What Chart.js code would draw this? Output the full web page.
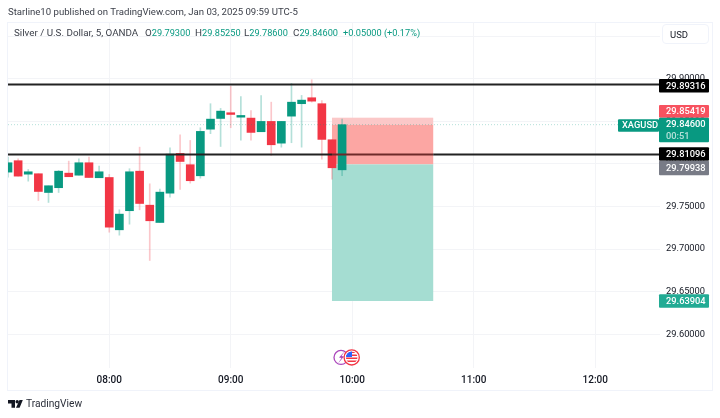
<!DOCTYPE html>
<html>
<head>
<meta charset="utf-8">
<title>XAGUSD 5m</title>
<script src="https://cdn.jsdelivr.net/npm/chart.js@4/dist/chart.umd.min.js"></script>
<style>
  html, body { margin: 0; padding: 0; background: #fff; }
  #wrap { position: relative; width: 720px; height: 418px; overflow: hidden; font-family: Roboto, sans-serif; color: #131722; }
  #wrap span, #wrap div.t { position: absolute; white-space: nowrap; line-height: 14px; }
  canvas { position: absolute; left: 0; top: 0; }
  .pub { left: 8px; top: 5px; font-size: 9.6px; color: #3a3e48; }
  .leg { top: 26px; font-size: 9.8px; color: #3a3e48; }
  .leg b { font-weight: 400; font-size: 9.2px; color: #089981; }
  #usd { position: absolute; left: 662px; top: 24px; width: 47px; height: 20px; border: 1px solid #f0f3fa; border-radius: 4px; background: #fff; font-size: 9.5px; line-height: 19px; text-indent: 7px; box-sizing: border-box; }
  .foot { left: 26px; top: 397px; font-size: 10.2px; color: #2a2e39; }
</style>
</head>
<body>
<div id="wrap">
  <canvas id="chartSilver" width="720" height="418"></canvas>
  <span class="pub">Starline10 published on TradingView.com, Jan 03, 2025 09:59 UTC-5</span>
  <span class="leg" style="left:14px">Silver / U.S. Dollar, 5, OANDA</span>
  <span class="leg" style="left:145px">O<b>29.79300</b></span>
  <span class="leg" style="left:195px">H<b>29.85250</b></span>
  <span class="leg" style="left:244px">L<b>29.78600</b></span>
  <span class="leg" style="left:293px">C<b>29.84600</b></span>
  <span class="leg" style="left:343px"><b>+0.05000 (+0.17%)</b></span>
  <div id="usd">USD</div>
  <span class="foot">TradingView</span>
</div>
<script>
// candle data
const times = ['07:10','07:15','07:20','07:25','07:30','07:35','07:40','07:45','07:50','07:55','08:00','08:05','08:10','08:15','08:20','08:25','08:30','08:35','08:40','08:45','08:50','08:55','09:00','09:05','09:10','09:15','09:20','09:25','09:30','09:35','09:40','09:45','09:50','09:55'];
const opens  = [29.7903,29.8037,29.7879,29.7884,29.7664,29.7720,29.7891,29.7867,29.8013,29.7837,29.7840,29.7226,29.7450,29.7914,29.7515,29.7312,29.7656,29.8122,29.7990,29.7860,29.8407,29.8533,29.8600,29.8548,29.8537,29.8377,29.8498,29.8243,29.8560,29.8706,29.8776,29.8706,29.8283,29.7930];
const highs  = [29.8079,29.8060,29.7934,29.7884,29.7743,29.7923,29.8032,29.8060,29.8079,29.7973,29.7876,29.7461,29.7943,29.8196,29.7766,29.7703,29.8189,29.8342,29.8275,29.8424,29.8706,29.8651,29.8912,29.8791,29.8624,29.8800,29.8724,29.8498,29.8944,29.8803,29.8987,29.8744,29.8283,29.8525];
const lows   = [29.7844,29.7856,29.7797,29.7570,29.7547,29.7664,29.7849,29.7867,29.7840,29.7837,29.7198,29.7163,29.7292,29.7461,29.6866,29.7312,29.7609,29.7700,29.7774,29.7832,29.8354,29.8204,29.8424,29.8278,29.8278,29.8377,29.8099,29.8196,29.8248,29.8196,29.8724,29.8055,29.7821,29.7860];
const closes = [29.8013,29.7856,29.7907,29.7676,29.7743,29.7914,29.7849,29.8013,29.7840,29.7907,29.7257,29.7410,29.7907,29.7535,29.7332,29.7668,29.8114,29.8028,29.7802,29.8381,29.8525,29.8619,29.8580,29.8568,29.8369,29.8498,29.8224,29.8498,29.8724,29.8748,29.8736,29.8287,29.7954,29.8460];

const timeTicks = ['08:00','09:00','10:00','11:00','12:00'];
const priceTicks = [29.60,29.65,29.70,29.75,29.80,29.85,29.90,29.95];

const levelPrices = [29.89316,29.81096];
const lastPrice = 29.846;
const stopPrice = 29.85419;
const entryPrice = 29.79938;
const targetPrice = 29.63904;
const boxTimes = ['09:50','10:40'];

const tagPrices = [29.89316,29.85419,29.84600,29.81096,29.79938,29.63904];
const countdown = '00:51';
const symbol = 'XAGUSD';

const UP = '#089981', DOWN = '#F23645';
const xMin = 430, xMax = 752, yMin = 29.5604, yMax = 29.9665;
const toMin = t => { const p = t.split(':'); return +p[0] * 60 + +p[1]; };
const isUp = i => closes[i] >= opens[i];
const [boxStart, boxEnd] = boxTimes.map(toMin);

const fullLine = (price, color, width, dash, segment) => ({
  type: 'line',
  data: [xMin, boxStart, boxEnd, xMax].map(x => ({ x: x, y: price })),
  borderColor: color, borderWidth: width, borderDash: dash || [],
  pointRadius: 0, order: 0, segment: segment
});

// position box under the candles
const boxPlugin = {
  id: 'box',
  beforeDraw(chart) {
    const c = chart.ctx;
    c.save();
    c.strokeStyle = '#f0f3fa';
    c.lineWidth = 1;
    c.strokeRect(7.5, 22.5, 705, 368);
    c.restore();
  },
  beforeDatasetsDraw(chart) {
    const c = chart.ctx, x = chart.scales.x, y = chart.scales.y;
    const l = x.getPixelForValue(boxStart), r = x.getPixelForValue(boxEnd);
    const band = (a, b, col) => {
      c.fillStyle = col;
      c.fillRect(l, y.getPixelForValue(a), r - l, y.getPixelForValue(b) - y.getPixelForValue(a));
    };
    band(stopPrice, lastPrice, '#fbc8c8');
    band(lastPrice, entryPrice, '#fca6a3');
    band(entryPrice, targetPrice, '#a5ddd2');
  },
  afterDraw(chart) {
    const c = chart.ctx;
    c.save();
    // price tags on the axis, stacked like the original
    const tags = [
      { top: 79, h: 13.5, bg: '#000000' },
      { top: 105, h: 12.7, bg: '#F7525F' },
      { top: 117.7, h: 24.6, bg: UP },
      { top: 147.3, h: 13.4, bg: '#000000' },
      { top: 160.7, h: 14.6, bg: '#787B86' },
      { top: 294.3, h: 13.4, bg: '#22ab94' }
    ];
    c.font = '500 9.3px Roboto, sans-serif';
    c.textBaseline = 'middle';
    tags.forEach((t, i) => {
      c.fillStyle = t.bg;
      c.beginPath();
      c.roundRect(659, t.top, 50, t.h, 1);
      c.fill();
      c.fillStyle = '#fff';
      const mid = i === 2 ? t.top + 6.5 : t.top + t.h / 2 + 0.5;
      c.fillText(tagPrices[i].toFixed(5), 666, mid);
      if (i === 2) {
        c.fillStyle = 'rgba(255,255,255,.7)';
        c.fillText(countdown, 666, t.top + 18.5);
      }
    });
    // symbol tag
    c.fillStyle = UP;
    c.beginPath();
    c.roundRect(618, 119.3, 41, 12.4, 1);
    c.fill();
    c.fillStyle = '#fff';
    c.fillText(symbol, 622, 126);

    // event icons
    c.lineWidth = 1.3;
    c.strokeStyle = '#ab47bc';
    c.fillStyle = '#fff';
    c.beginPath(); c.arc(341, 357.4, 7, 0, Math.PI * 2); c.fill(); c.stroke();
    c.fillStyle = '#ab47bc';
    c.beginPath();
    c.moveTo(345, 351); c.lineTo(339, 357.5); c.lineTo(341.5, 358); c.lineTo(338, 363.5); c.lineTo(344, 356.5); c.lineTo(341.5, 356);
    c.closePath(); c.fill();
    c.fillStyle = '#fff';
    c.beginPath(); c.arc(351.7, 357.4, 7.6, 0, Math.PI * 2); c.fill();
    c.save();
    c.beginPath(); c.arc(351.7, 357.4, 5.8, 0, Math.PI * 2); c.clip();
    c.fillStyle = '#fff'; c.fillRect(345, 351, 14, 13);
    c.fillStyle = '#f23645';
    [351.5, 354.5, 357.5, 360.5].forEach(s => c.fillRect(345, s, 14, 1.5));
    c.fillStyle = '#2962ff'; c.fillRect(345, 351, 7, 6);
    c.restore();
    c.strokeStyle = '#f23645';
    c.beginPath(); c.arc(351.7, 357.4, 7.6, 0, Math.PI * 2); c.stroke();

    // TradingView mark
    c.fillStyle = '#131722';
    c.beginPath();
    c.moveTo(8, 400); c.lineTo(15, 400); c.lineTo(15, 407.7); c.lineTo(11.5, 407.7); c.lineTo(11.5, 403.4); c.lineTo(8, 403.4);
    c.closePath(); c.fill();
    c.beginPath(); c.arc(17.2, 401.7, 1.7, 0, Math.PI * 2); c.fill();
    c.beginPath();
    c.moveTo(19.5, 400); c.lineTo(22.8, 400); c.lineTo(19.6, 407.7); c.lineTo(16, 407.7);
    c.closePath(); c.fill();
    c.restore();
  }
};

const candleX = times.map(toMin);

new Chart(document.getElementById('chartSilver'), {
  type: 'bar',
  data: {
    datasets: [
      fullLine(lastPrice, 'rgba(8,153,129,.3)', 1, [1, 2]),
      fullLine(levelPrices[0], '#222222', 2),
      fullLine(levelPrices[1], '#222222', 2, [], {
        borderColor: s => (s.p0.parsed.x >= boxStart && s.p1.parsed.x <= boxEnd ? '#6e2a2a' : undefined)
      }),
      {
        data: candleX.map((x, i) => ({ x: x, y: [opens[i], closes[i]] })),
        backgroundColor: candleX.map((x, i) => (isUp(i) ? UP : DOWN)),
        barThickness: 8, grouped: false, order: 1
      },
      {
        data: candleX.map((x, i) => ({ x: x, y: [lows[i], highs[i]] })),
        backgroundColor: candleX.map((x, i) => (isUp(i) ? 'rgba(8,153,129,.3)' : 'rgba(242,54,69,.28)')),
        barThickness: 1, grouped: false, order: 2
      }
    ]
  },
  options: {
    responsive: false,
    animation: false,
    layout: { padding: { left: 8, top: 22, right: 0, bottom: 0 } },
    plugins: { legend: { display: false }, tooltip: { enabled: false } },
    scales: {
      x: {
        type: 'linear', min: xMin, max: xMax, offset: false,
        afterBuildTicks: s => { s.ticks = timeTicks.map(t => ({ value: toMin(t) })); },
        afterFit: s => { s.height = 50; },
        grid: { color: '#f3f4f7', offset: false, drawTicks: false },
        border: { display: false },
        ticks: {
          autoSkip: false, maxRotation: 0, padding: 6, color: '#131722',
          font: { family: 'Roboto', size: 10, weight: '500' },
          callback: v => String(Math.floor(v / 60)).padStart(2, '0') + ':' + String(v % 60).padStart(2, '0')
        }
      },
      y: {
        position: 'right', min: yMin, max: yMax,
        afterBuildTicks: s => { s.ticks = priceTicks.map(v => ({ value: v })); },
        afterFit: s => { s.width = 60; },
        grid: { color: '#f3f4f7', drawTicks: false },
        border: { display: false },
        ticks: {
          padding: 6, color: '#131722',
          font: { family: 'Roboto', size: 9.3 },
          callback: v => v.toFixed(5)
        }
      }
    }
  },
  plugins: [boxPlugin]
});
</script>
</body>
</html>
